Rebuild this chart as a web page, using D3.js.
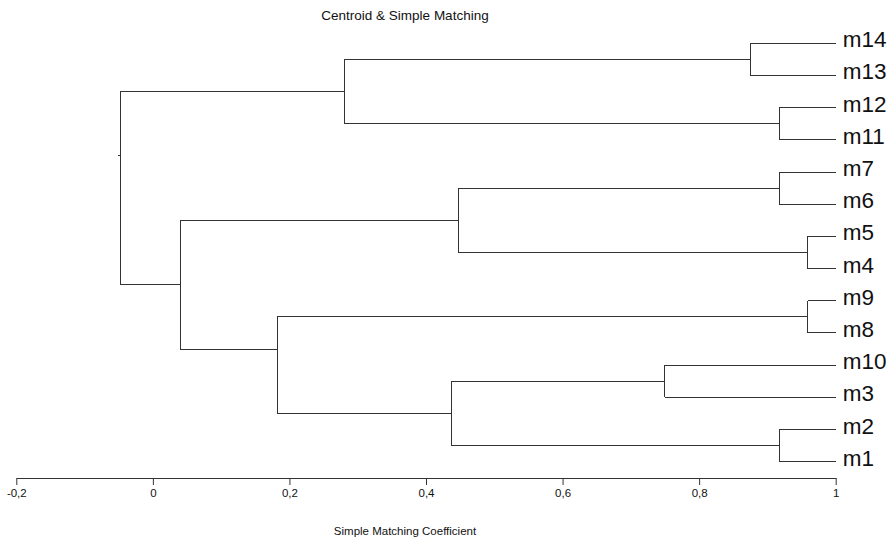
<!DOCTYPE html>
<html>
<head>
<meta charset="utf-8">
<script src="https://cdn.jsdelivr.net/npm/d3@7"></script>
<style>
  html, body { margin: 0; padding: 0; background: #fff; }
  svg { display: block; font-family: "Liberation Sans", Arial, Helvetica, sans-serif; }
</style>
</head>
<body>
<svg id="chart" width="891" height="540"></svg>
<script>
// ---- data ----
const title = "Centroid & Simple Matching";
const axisTitle = "Simple Matching Coefficient";
const leaves = ["m14", "m13", "m12", "m11", "m7", "m6", "m5", "m4", "m9", "m8", "m10", "m3", "m2", "m1"];
const tickValues = [-0.2, 0, 0.2, 0.4, 0.6, 0.8, 1];
const leafLevel = 1;
// merge nodes: [id, left child, right child, coefficient, stem position in leaf-order units]
const merges = [
  ["A", "m14", "m13", 0.875, 0.5],
  ["B", "m12", "m11", 0.917, 2.5],
  ["C", "A", "B", 0.281, 1.5],
  ["D", "m7", "m6", 0.917, 4.5],
  ["E", "m5", "m4", 0.959, 6.5],
  ["F", "D", "E", 0.448, 5.5],
  ["G", "m9", "m8", 0.959, 8.5],
  ["H", "m10", "m3", 0.75, 10.5],
  ["I", "m2", "m1", 0.917, 12.5],
  ["J", "H", "I", 0.438, 11.5],
  ["K", "G", "J", 0.182, 9.5],
  ["L", "F", "K", 0.040, 7.5],
  ["R", "C", "L", -0.048, 3.5]
];

// ---- layout ----
const svg = d3.select("#chart");
const x = d3.scaleLinear().domain([-0.2, 1]).range([16.3, 835.7]);
const y = d3.scaleLinear().domain([0, leaves.length - 1]).range([43.3, 461.7]);

const info = {};
leaves.forEach((name, i) => { info[name] = { h: leafLevel, pos: i }; });
merges.forEach(([id, l, r, h, s]) => { info[id] = { h, pos: s, l, r }; });

const stroke = "#333";
const g = svg.append("g").attr("fill", "none").attr("stroke", stroke).attr("stroke-width", 1).attr("shape-rendering", "crispEdges");

merges.forEach(([id, l, r, h]) => {
  const xl = x(h);
  g.append("line")
    .attr("x1", xl).attr("x2", xl)
    .attr("y1", y(info[l].pos)).attr("y2", y(info[r].pos));
  [l, r].forEach(c => {
    g.append("line")
      .attr("x1", xl).attr("x2", x(info[c].h))
      .attr("y1", y(info[c].pos)).attr("y2", y(info[c].pos));
  });
});

// root stub
const root = merges[merges.length - 1];
g.append("line")
  .attr("x1", x(root[3]) - 2).attr("x2", x(root[3]))
  .attr("y1", y(root[4])).attr("y2", y(root[4]));

// leaf labels
svg.append("g").selectAll("text").data(leaves).join("text")
  .attr("x", x(leafLevel) + 7)
  .attr("y", (d, i) => y(i) + 4)
  .attr("font-size", 22.5)
  .attr("fill", "#111")
  .text(d => d);

// axis
const axis = d3.axisBottom(x)
  .tickValues(tickValues)
  .tickSizeInner(7)
  .tickSizeOuter(0)
  .tickPadding(4)
  .tickFormat(d => String(d).replace(".", ","));

const ax = svg.append("g").attr("transform", "translate(0,478)").call(axis);
ax.select(".domain").attr("stroke", stroke);
ax.selectAll(".tick line").attr("stroke", stroke);
ax.selectAll(".tick text").attr("font-size", 11.5).attr("fill", "#111")
  .attr("font-family", "\"Liberation Sans\", Arial, Helvetica, sans-serif");

// titles
svg.append("text")
  .attr("x", 405).attr("y", 20)
  .attr("text-anchor", "middle")
  .attr("font-size", 13.5)
  .attr("fill", "#111")
  .text(title);

svg.append("text")
  .attr("x", 405).attr("y", 534.5)
  .attr("text-anchor", "middle")
  .attr("font-size", 11.5)
  .attr("fill", "#111")
  .text(axisTitle);
</script>
</body>
</html>
